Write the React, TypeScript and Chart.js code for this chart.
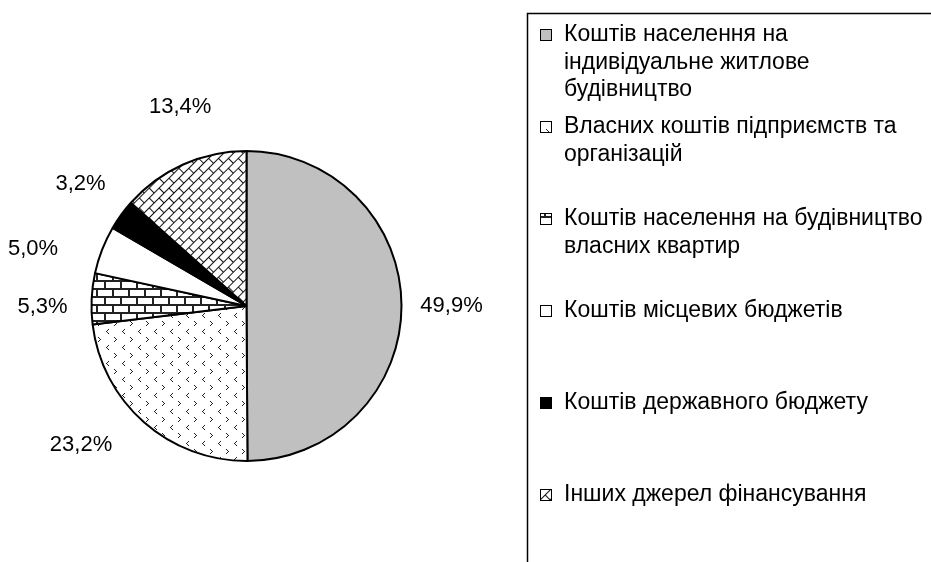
import React, { useEffect, useRef } from 'react';
import { Chart, registerables } from 'chart.js';

Chart.register(...registerables);

// ---- data ----
const categories: string[][] = [
  ['Коштів населення на', 'індивідуальне житлове', 'будівництво'],
  ['Власних коштів підприємств та', 'організацій'],
  ['Коштів населення на будівництво', 'власних квартир'],
  ['Коштів місцевих бюджетів'],
  ['Коштів державного бюджету'],
  ['Інших джерел фінансування'],
];
const shares: number[] = [49.9, 23.2, 5.3, 5.0, 3.2, 13.4];

// ---- label layout tweaks (angle shift in degrees, gap beyond rim in px) ----
const labelShiftDeg: number[] = [0.2, 8.6, -3, -6.2, 0.3, 5.7];
const labelGap: number[] = [50, 61, 49, 66, 51, 55];

const FONT = '22px "Liberation Sans", Arial, sans-serif';
const LEGEND_FONT = '23px "Liberation Sans", Arial, sans-serif';

function makeTile(w: number, h: number, draw: (g: CanvasRenderingContext2D) => void) {
  const c = document.createElement('canvas');
  c.width = w;
  c.height = h;
  const g = c.getContext('2d')!;
  g.fillStyle = '#ffffff';
  g.fillRect(0, 0, w, h);
  draw(g);
  return c;
}

function buildFills(ctx: CanvasRenderingContext2D) {
  const dotted = ctx.createPattern(
    makeTile(16, 16, (g) => {
      g.fillStyle = '#222';
      // '>' mark
      g.fillRect(2, 1, 1, 1);
      g.fillRect(3, 2, 1, 1);
      g.fillRect(4, 3, 1, 1);
      g.fillRect(3, 4, 1, 1);
      g.fillRect(2, 5, 1, 1);
      // '<' mark
      g.fillRect(12, 9, 1, 1);
      g.fillRect(11, 10, 1, 1);
      g.fillRect(10, 11, 1, 1);
      g.fillRect(11, 12, 1, 1);
      g.fillRect(12, 13, 1, 1);
    }),
    'repeat'
  )!;
  const brick = ctx.createPattern(
    makeTile(16, 16, (g) => {
      g.fillStyle = '#222';
      g.fillRect(0, 0, 16, 2);
      g.fillRect(0, 8, 16, 2);
      g.fillRect(0, 0, 2, 8);
      g.fillRect(8, 8, 2, 8);
    }),
    'repeat'
  )!;
  const diag = ctx.createPattern(
    makeTile(14, 14, (g) => {
      g.fillStyle = '#111';
      g.fillRect(0, 0, 14, 1);
      g.fillRect(0, 7, 14, 1);
      g.fillRect(0, 0, 1, 7);
      g.fillRect(7, 7, 1, 7);
    }),
    'repeat'
  )!;
  try {
    diag.setTransform(new DOMMatrix().rotate(-45));
  } catch (e) {
    /* ignore */
  }
  return ['#c0c0c0', dotted, brick, '#ffffff', '#000000', diag] as (string | CanvasPattern)[];
}

const fmt = (v: number) => v.toFixed(1).replace('.', ',') + '%';

export default function App() {
  const ref = useRef<HTMLCanvasElement | null>(null);

  useEffect(() => {
    document.body.style.margin = '0';
    const canvas = ref.current!;
    const ctx = canvas.getContext('2d')!;
    const fills = buildFills(ctx);

    const whiteBg = {
      id: 'whiteBg',
      beforeDraw(chart: any) {
        const c = chart.ctx;
        c.save();
        c.fillStyle = '#ffffff';
        c.fillRect(0, 0, chart.width, chart.height);
        c.restore();
      },
    };

    const valueLabels = {
      id: 'valueLabels',
      afterDatasetsDraw(chart: any) {
        const c = chart.ctx;
        const meta = chart.getDatasetMeta(0);
        c.save();
        c.font = FONT;
        c.fillStyle = '#000';
        c.textAlign = 'center';
        c.textBaseline = 'middle';
        meta.data.forEach((arc: any, i: number) => {
          const p = arc.getProps(['x', 'y', 'startAngle', 'endAngle', 'outerRadius'], true);
          const mid = (p.startAngle + p.endAngle) / 2 + (labelShiftDeg[i] * Math.PI) / 180;
          const r = p.outerRadius + labelGap[i];
          c.fillText(fmt(shares[i]), p.x + Math.cos(mid) * r, p.y + Math.sin(mid) * r);
        });
        c.restore();
      },
    };

    const boxLegend = {
      id: 'boxLegend',
      afterDraw(chart: any) {
        const c = chart.ctx;
        const left = 527;
        const top = 13;
        const slot = 92;
        const lineH = 27.5;
        c.save();
        c.strokeStyle = '#000';
        c.lineWidth = 1.5;
        c.strokeRect(left + 0.5, top + 0.5, 600, 700);
        c.font = LEGEND_FONT;
        c.textBaseline = 'middle';
        c.textAlign = 'left';
        categories.forEach((lines, i) => {
          const y0 = top + 22 + i * slot;
          const ms = 12;
          c.fillStyle = fills[i] as any;
          c.fillRect(left + 13, y0 - ms / 2, ms, ms);
          c.lineWidth = 1;
          c.strokeStyle = '#000';
          c.strokeRect(left + 13.5, y0 - ms / 2 + 0.5, ms - 1, ms - 1);
          c.fillStyle = '#000';
          lines.forEach((t, k) => c.fillText(t, left + 37, y0 + k * lineH));
        });
        c.restore();
      },
    };

    const chart = new Chart(canvas, {
      type: 'pie',
      data: {
        labels: categories,
        datasets: [
          {
            data: shares,
            backgroundColor: fills as any,
            borderColor: '#000',
            borderWidth: 2,
            radius: 155,
          } as any,
        ],
      },
      options: {
        responsive: false,
        animation: false,
        devicePixelRatio: 1,
        layout: { padding: { left: 80, right: 518, top: 140, bottom: 90 } },
        plugins: {
          legend: { display: false },
          tooltip: { enabled: false },
        },
      },
      plugins: [whiteBg, valueLabels, boxLegend],
    });
    return () => chart.destroy();
  }, []);

  return (
    <div style={{ width: 931, height: 562, position: 'relative' }}>
      <canvas ref={ref} width={931} height={562} style={{ width: 931, height: 562, display: 'block' }} />
    </div>
  );
}
